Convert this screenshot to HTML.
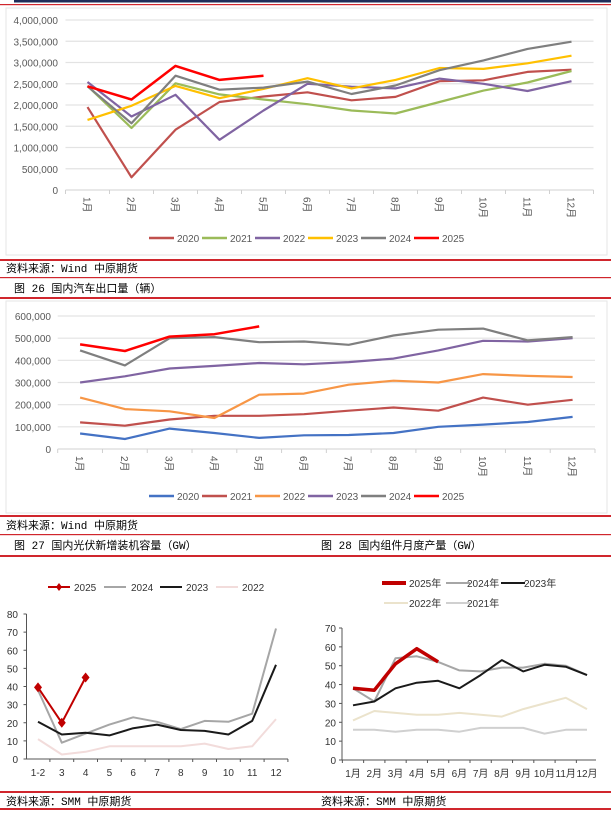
<!DOCTYPE html>
<html><head><meta charset="utf-8">
<style>
body{margin:0;background:#fff;}
svg{display:block;font-family:"Liberation Sans","Noto Sans CJK SC",sans-serif;}
.cap{font-family:"Liberation Mono","Noto Sans CJK SC",monospace;font-size:11px;fill:#000;}
</style></head>
<body>
<svg id="page" width="611" height="815" viewBox="0 0 611 815">
  <rect x="14" y="0" width="597" height="2.5" fill="#1f2d5a"/>
  <rect x="0" y="4" width="611" height="1.2" fill="#d0262d"/>
  <rect x="6" y="8" width="601" height="247" fill="none" stroke="#e6e6e6"/>
  <rect x="6" y="301" width="601" height="212" fill="none" stroke="#e6e6e6"/>
  <g>
    <rect x="0" y="259" width="611" height="2" fill="#d0262d"/>
    <rect x="0" y="277" width="611" height="1.2" fill="#d0262d"/>
    <rect x="0" y="297" width="611" height="2" fill="#d0262d"/>
    <rect x="0" y="515" width="611" height="2" fill="#d0262d"/>
    <rect x="0" y="534" width="611" height="1.2" fill="#d0262d"/>
    <rect x="0" y="555" width="611" height="2" fill="#d0262d"/>
    <rect x="0" y="791" width="611" height="2" fill="#d0262d"/>
    <rect x="0" y="808" width="611" height="2" fill="#d0262d"/>
  </g>
  <text class="cap" x="6" y="272">资料来源：Wind 中原期货</text>
  <text class="cap" x="14" y="292">图 26 国内汽车出口量（辆）</text>
  <text class="cap" x="6" y="529">资料来源：Wind 中原期货</text>
  <text class="cap" x="14" y="549">图 27 国内光伏新增装机容量（GW）</text>
  <text class="cap" x="321" y="549">图 28 国内组件月度产量（GW）</text>
  <text class="cap" x="6" y="805">资料来源：SMM 中原期货</text>
  <text class="cap" x="321" y="805">资料来源：SMM 中原期货</text>
</svg>
<script>
const months = ["1月","2月","3月","4月","5月","6月","7月","8月","9月","10月","11月","12月"];
// Chart 1: car exports (thousands)
const c1Years = ["2020","2021","2022","2023","2024","2025"];
const c1_2020 = [1950,300,1420,2070,2200,2300,2110,2190,2560,2580,2780,2830];
const c1_2021 = [2450,1460,2510,2250,2130,2020,1870,1800,2070,2340,2530,2800];
const c1_2022 = [2540,1730,2240,1180,1870,2500,2430,2390,2620,2500,2330,2560];
const c1_2023 = [1650,1980,2450,2160,2380,2630,2390,2590,2870,2850,2980,3160];
const c1_2024 = [2440,1570,2690,2360,2410,2550,2260,2460,2820,3050,3320,3490];
const c1_2025 = [2440,2130,2920,2590,2690];
const c1Ticks = ["0","500,000","1,000,000","1,500,000","2,000,000","2,500,000","3,000,000","3,500,000","4,000,000"];
// Chart 2: PV installs (thousands)
const c2_2020 = [70,45,92,72,50,62,63,72,100,110,122,145];
const c2_2021 = [120,105,133,150,150,157,173,187,173,232,200,222];
const c2_2022 = [232,180,170,140,245,250,290,308,300,338,330,325];
const c2_2023 = [300,328,363,375,388,382,392,408,445,488,485,500];
const c2_2024 = [445,377,500,505,482,485,470,512,538,543,490,505];
const c2_2025 = [472,442,507,518,553];
const c2Ticks = ["0","100,000","200,000","300,000","400,000","500,000","600,000"];
// Chart 3
const c3Cats = ["1-2","3","4","5","6","7","8","9","10","11","12"];
const c3_2025 = [39.5,20,45];
const c3_2024 = [38,9,14,19,23,20.5,16.5,21,20.5,25,72];
const c3_2023 = [20.5,13.5,14.5,13,17,19,16,15.5,13.5,21,52];
const c3_2022 = [11,2.5,4,7,7,7,7,8.5,5.5,7,22];
const c3Ticks = [0,10,20,30,40,50,60,70,80];
// Chart 4
const c4_2025 = [38,37,51,59,52];
const c4_2024 = [38,31,54,55,52,47.5,47,49,49,51,50,45];
const c4_2023 = [29,31,38,41,42,38,45,53,47,50.5,49.5,45];
const c4_2022 = [21,26,25,24,24,25,24,23,27,30,33,27];
const c4_2021 = [16,16,15,16,16,15,17,17,17,14,16,16];
const c4Ticks = [0,10,20,30,40,50,60,70];

const NS="http://www.w3.org/2000/svg";
const svg=document.getElementById('page');
function mk(tag,attrs,parent){const e=document.createElementNS(NS,tag);for(const k in attrs)e.setAttribute(k,attrs[k]);(parent||svg).appendChild(e);return e;}
function txt(s,attrs,parent){const e=mk('text',attrs,parent);e.textContent=s;return e;}
function line(vals,xf,yf,color,w,g,name){
  const pts=vals.map((v,i)=>xf(i).toFixed(1)+','+yf(v).toFixed(1)).join(' ');
  const p=mk('polyline',{points:pts,fill:'none',stroke:color,'stroke-width':w,'stroke-linejoin':'round'},g);
  
  
  return p;
}

// ---- Chart 1 ----
(function(){
  const g=mk('g',{});
  
  
  const x0=65.5,x1=593.5,yb=190,yt=20,max=4000;
  const step=(x1-x0)/12;
  const xf=i=>x0+step*(i+0.5), yf=v=>yb-(v/max)*(yb-yt);
  c1Ticks.forEach((t,i)=>{
    const v=i*500,y=yf(v);
    if(i>0) mk('line',{x1:x0,x2:x1,y1:y,y2:y,stroke:'#e3e3e3','stroke-width':1.2},g);
    txt(t,{x:58,y:y+4,'text-anchor':'end','font-size':'10px',fill:'#595959'},g);
  });
  mk('line',{x1:x0,x2:x1,y1:yb,y2:yb,stroke:'#d0d0d0'},g);
  for(let i=0;i<=12;i++) mk('line',{x1:x0+step*i,x2:x0+step*i,y1:yb,y2:yb+4,stroke:'#d0d0d0'},g);
  months.forEach((m,i)=>{
    const t=txt(m,{x:0,y:0,'font-size':'10px',fill:'#595959',transform:`translate(${xf(i)-4},${yb+7}) rotate(90)`},g);
    
    
  });
  const colors=['#c0504d','#9bbb59','#8064a2','#ffc000','#7f7f7f','#ff0000'];
  const series=[c1_2020,c1_2021,c1_2022,c1_2023,c1_2024,c1_2025];
  series.forEach((s,k)=>line(s,xf,yf,colors[k],k==5?2.5:2.2,g,'series-'+c1Years[k]));
  c1Years.forEach((y,k)=>{
    const lx=149+53*k;
    mk('line',{x1:lx,x2:lx+25,y1:238,y2:238,stroke:colors[k],'stroke-width':2.5},g);
    txt(y,{x:lx+28,y:242,'font-size':'10px',fill:'#595959'},g);
  });
})();

// ---- Chart 2 ----
(function(){
  const g=mk('g',{});
  
  
  const x0=57.7,x1=595,yb=449,yt=316,max=600;
  const step=(x1-x0)/12;
  const xf=i=>x0+step*(i+0.5), yf=v=>yb-(v/max)*(yb-yt);
  c2Ticks.forEach((t,i)=>{
    const v=i*100,y=yf(v);
    if(i>0) mk('line',{x1:x0,x2:x1,y1:y,y2:y,stroke:'#e3e3e3','stroke-width':1.2},g);
    txt(t,{x:51,y:y+4,'text-anchor':'end','font-size':'10px',fill:'#595959'},g);
  });
  mk('line',{x1:x0,x2:x1,y1:yb,y2:yb,stroke:'#d0d0d0'},g);
  for(let i=0;i<=12;i++) mk('line',{x1:x0+step*i,x2:x0+step*i,y1:yb,y2:yb+4,stroke:'#d0d0d0'},g);
  months.forEach((m,i)=>{
    txt(m,{x:0,y:0,'font-size':'10px',fill:'#595959',transform:`translate(${xf(i)-4},${yb+7}) rotate(90)`},g);
  });
  const years=["2020","2021","2022","2023","2024","2025"];
  const colors=['#4472c4','#c0504d','#f79646','#8064a2','#7f7f7f','#ff0000'];
  [c2_2020,c2_2021,c2_2022,c2_2023,c2_2024,c2_2025].forEach((s,k)=>line(s,xf,yf,colors[k],k==5?2.5:2.2,g,'series-'+years[k]));
  years.forEach((y,k)=>{
    const lx=149+53*k;
    mk('line',{x1:lx,x2:lx+25,y1:496,y2:496,stroke:colors[k],'stroke-width':2.5},g);
    txt(y,{x:lx+28,y:500,'font-size':'10px',fill:'#595959'},g);
  });
})();

// ---- Chart 3 ----
(function(){
  const g=mk('g',{});
  
  
  const x0=26.5,x1=288,yb=759,yt=614,max=80;
  const c0=38,cs=(276-38)/10;
  const xf=i=>c0+cs*i, yf=v=>yb-(v/max)*(yb-yt);
  mk('line',{x1:x0,x2:x0,y1:yt,y2:yb,stroke:'#555'},g);
  mk('line',{x1:x0,x2:x1,y1:yb,y2:yb,stroke:'#555'},g);
  c3Ticks.forEach(v=>{
    const y=yf(v);
    mk('line',{x1:x0-3,x2:x0,y1:y,y2:y,stroke:'#555'},g);
    txt(String(v),{x:18,y:y+4,'text-anchor':'end','font-size':'10px',fill:'#333'},g);
  });
  for(let i=0;i<=11;i++){const tx=c0+cs*(i-0.5);if(tx>x0&&tx<x1) mk('line',{x1:tx,x2:tx,y1:yb,y2:yb+3,stroke:'#555'},g);}
  c3Cats.forEach((c,i)=>txt(c,{x:xf(i),y:776,'text-anchor':'middle','font-size':'10px',fill:'#333'},g));
  line(c3_2022,xf,yf,'#f2dcdb',2,g,'series-2022');
  line(c3_2024,xf,yf,'#a6a6a6',2,g,'series-2024');
  line(c3_2023,xf,yf,'#1a1a1a',2,g,'series-2023');
  line(c3_2025,xf,yf,'#c00000',2,g,'series-2025');
  c3_2025.forEach((v,i)=>{
    const x=xf(i),y=yf(v);
    const d=mk('polygon',{points:`${x},${y-5} ${x+4},${y} ${x},${y+5} ${x-4},${y}`,fill:'#c00000'},g);
    
    
  });
  const leg=[['2025','#c00000',48,74],['2024','#a6a6a6',104,131],['2023','#1a1a1a',160,186],['2022','#f2dcdb',216,242]];
  leg.forEach(([t,c,x,tx])=>{
    mk('line',{x1:x,x2:x+22,y1:587,y2:587,stroke:c,'stroke-width':2},g);
    txt(t,{x:tx,y:591,'font-size':'10px',fill:'#333'},g);
  });
  const x=59,y=587;
  mk('polygon',{points:`${x},${y-4} ${x+3},${y} ${x},${y+4} ${x-3},${y}`,fill:'#c00000'},g);
})();

// ---- Chart 4 ----
(function(){
  const g=mk('g',{});
  
  
  const x0=342,x1=596,yb=760,yt=628,max=70;
  const c0=353,cs=(587-353)/11;
  const xf=i=>c0+cs*i, yf=v=>yb-(v/max)*(yb-yt);
  mk('line',{x1:x0,x2:x0,y1:yt,y2:yb,stroke:'#555'},g);
  mk('line',{x1:x0,x2:x1,y1:yb,y2:yb,stroke:'#555'},g);
  c4Ticks.forEach(v=>{
    const y=yf(v);
    mk('line',{x1:x0-3,x2:x0,y1:y,y2:y,stroke:'#555'},g);
    txt(String(v),{x:336,y:y+4,'text-anchor':'end','font-size':'10px',fill:'#333'},g);
  });
  for(let i=0;i<=12;i++){const tx=c0+cs*(i-0.5);if(tx>x0&&tx<x1) mk('line',{x1:tx,x2:tx,y1:yb,y2:yb+3,stroke:'#555'},g);}
  months.forEach((m,i)=>txt(m,{x:xf(i),y:777,'text-anchor':'middle','font-size':'10px',fill:'#333'},g));
  line(c4_2021,xf,yf,'#d0d0d0',2,g,'series-2021');
  line(c4_2022,xf,yf,'#ebe3cc',2,g,'series-2022');
  line(c4_2024,xf,yf,'#a6a6a6',2,g,'series-2024');
  line(c4_2023,xf,yf,'#1a1a1a',2,g,'series-2023');
  line(c4_2025,xf,yf,'#c00000',3.5,g,'series-2025');
  const leg=[['2025年','#c00000',382,409,583,4],['2024年','#a6a6a6',446,467,583,2],['2023年','#1a1a1a',501,524,583,2],['2022年','#ebe3cc',384,409,603,2],['2021年','#d0d0d0',446,467,603,2]];
  leg.forEach(([t,c,x,tx,y,w])=>{
    mk('line',{x1:x,x2:x+24,y1:y,y2:y,stroke:c,'stroke-width':w},g);
    txt(t,{x:tx,y:y+4,'font-size':'10px',fill:'#333'},g);
  });
})();
</script>
</body></html>
